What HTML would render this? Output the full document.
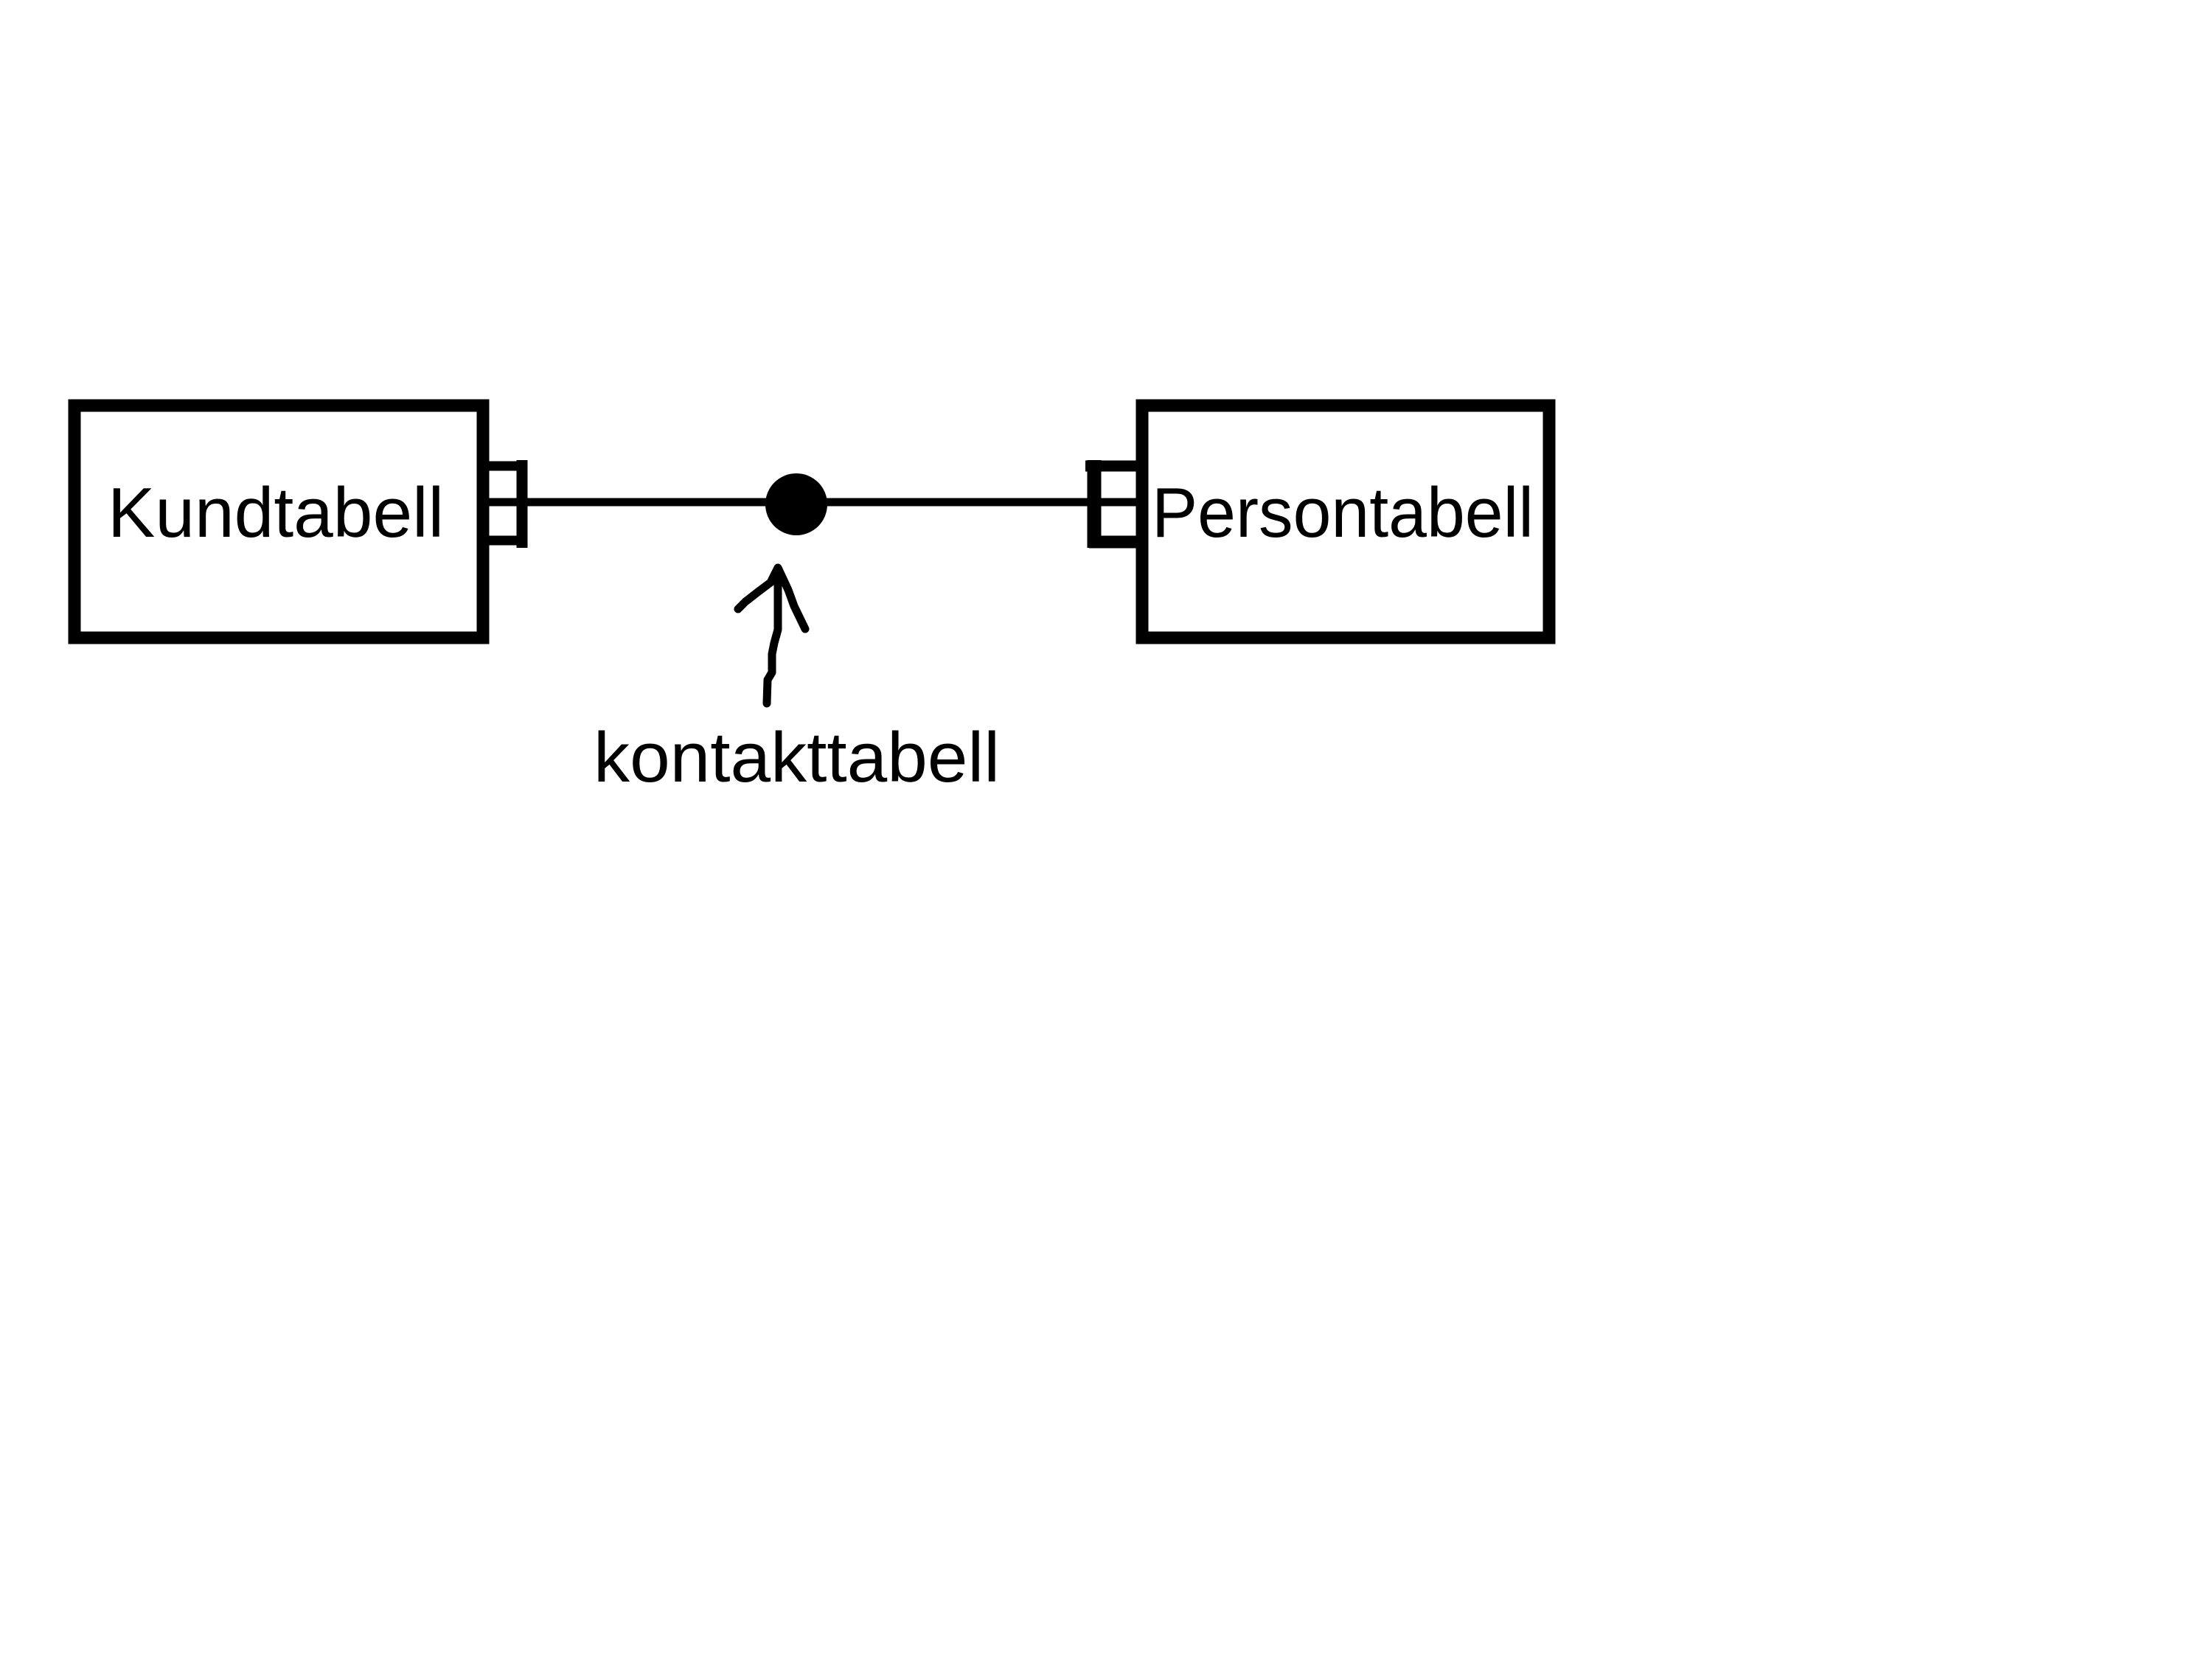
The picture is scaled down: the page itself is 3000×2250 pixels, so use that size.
<!DOCTYPE html>
<html><head><meta charset="utf-8"><style>html,body{margin:0;padding:0;background:#fff}svg{display:block}</style></head>
<body>
<svg width="3000" height="2250" viewBox="0 0 3000 2250" xmlns="http://www.w3.org/2000/svg">
<rect width="3000" height="2250" fill="#fff"/>
<g fill="none" stroke="#000">
<rect x="101" y="550" width="554" height="315" stroke-width="17"/>
<rect x="1549" y="550" width="552" height="315" stroke-width="17"/>
<line x1="655" y1="681" x2="1549" y2="681" stroke-width="11"/>
<!-- left notation -->
<line x1="655" y1="632" x2="712" y2="632" stroke-width="13"/>
<line x1="655" y1="733" x2="712" y2="733" stroke-width="13"/>
<line x1="708" y1="624" x2="708" y2="743" stroke-width="15"/>
<!-- right notation -->
<line x1="1472" y1="632" x2="1547" y2="632" stroke-width="15"/>
<line x1="1477" y1="735" x2="1547" y2="735" stroke-width="17"/>
<line x1="1484" y1="624" x2="1484" y2="743" stroke-width="19"/>
<!-- arrow -->
<polyline points="1040,954 1041,922 1047,912 1047,887 1050,872 1055,854 1055,772" stroke-width="11" stroke-linecap="round" stroke-linejoin="round"/>
<polyline points="1001,826 1011,816 1029,802 1045,790 1055,770 1069,800 1077,822 1092,853" stroke-width="11" stroke-linecap="round" stroke-linejoin="round"/>
</g>
<circle cx="1080" cy="684" r="42" fill="#000"/>
<g font-family="Liberation Sans, sans-serif" font-size="96" fill="#000">
<text x="146" y="728" textLength="456" lengthAdjust="spacingAndGlyphs">Kundtabell</text>
<text x="1562" y="728" textLength="518" lengthAdjust="spacingAndGlyphs">Persontabell</text>
<text x="805" y="1060" textLength="551" lengthAdjust="spacingAndGlyphs">kontakttabell</text>
</g>
</svg>
</body></html>
